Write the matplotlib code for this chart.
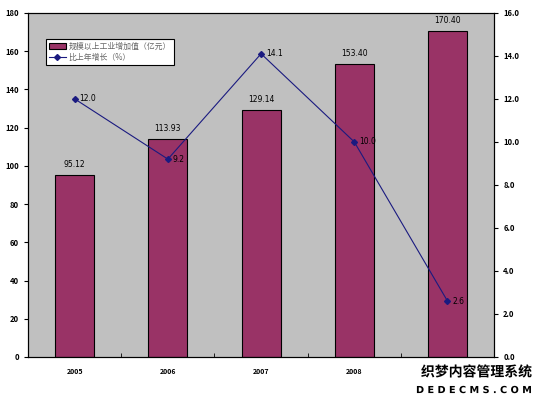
import matplotlib
matplotlib.use("Agg")
import matplotlib.pyplot as plt
import numpy as np
import matplotlib.patheffects as pe

plt.rcParams['font.family'] = ['Noto Sans CJK SC', 'DejaVu Sans']

years = ["2005", "2006", "2007", "2008", "2009"]
values = [95.12, 113.93, 129.14, 153.40, 170.40]
growth = [12.0, 9.2, 14.1, 10.0, 2.6]
bar_name = "规模以上工业增加值（亿元）"
line_name = "比上年增长（%）"

fig = plt.figure(figsize=(5.4, 3.96), dpi=100)
ax = fig.add_axes([0.052, 0.0985, 0.863, 0.869])
ax.set_facecolor("#C0C0C0")
x = np.arange(len(years))
bars = ax.bar(x, values, width=0.42, color="#993366", edgecolor="black", linewidth=0.8, label=bar_name, zorder=2)
ax.set_xlim(-0.5, len(years) - 0.5)
ax.set_ylim(0, 180)
ax.set_yticks(np.arange(0, 181, 20))
ax.set_xticks(x)
# the last year label is hidden under the watermark in the reference
shown = years[:-1] + [""]
ax.set_xticklabels(shown, fontsize=5, fontweight="bold")
ax.set_xticks(np.arange(-0.5, len(years), 1), minor=True)
ax.tick_params(axis="x", which="major", length=0, pad=8)
ax.tick_params(axis="x", which="minor", length=3, direction="in")
ax.tick_params(axis="y", labelsize=5.5, length=3, direction="out")
for lbl in ax.get_yticklabels():
    lbl.set_fontweight("bold")
for xi, v in zip(x, values):
    ax.text(xi, v + 3, f"{v:.2f}", ha="center", va="bottom", fontsize=5.5, family="DejaVu Sans")
for s in ax.spines.values():
    s.set_linewidth(0.8)

ax2 = ax.twinx()
ax2.set_ylim(0, 16)
ax2.set_yticks(np.arange(0, 16.1, 2))
ax2.set_yticklabels([f"{t:.1f}" for t in np.arange(0, 16.1, 2)], fontsize=5.5, fontweight="bold")
ax2.tick_params(axis="y", length=3, direction="out")
line, = ax2.plot(x, growth, color="#1a1a80", linewidth=0.8, marker="D", markersize=3, label=line_name)
for xi, g in zip(x, growth):
    ax2.text(xi + 0.05, g, f"{g:.1f}", ha="left", va="center", fontsize=5.5, family="DejaVu Sans")

leg = ax.legend([bars, line], [bar_name, line_name], loc="upper left", bbox_to_anchor=(0.03, 0.935),
                fontsize=5.7, frameon=True, fancybox=False, edgecolor="black", facecolor="white",
                framealpha=1, borderpad=0.35, labelspacing=0.25, handlelength=2.2, handletextpad=0.3)
leg.get_frame().set_linewidth(0.8)
for t in leg.get_texts():
    t.set_color("#666666")

fig.text(0.985, 0.06, "织梦内容管理系统", ha="right", va="center", fontsize=10, fontweight="bold",
         color="black", path_effects=[pe.withStroke(linewidth=2, foreground="white")])
fig.text(0.985, 0.015, "D E D E C M S . C O M", ha="right", va="center", fontsize=7, fontweight="bold",
         color="black", family="DejaVu Sans", path_effects=[pe.withStroke(linewidth=2, foreground="white")])

fig.savefig("out.png", dpi=100, facecolor="white")
